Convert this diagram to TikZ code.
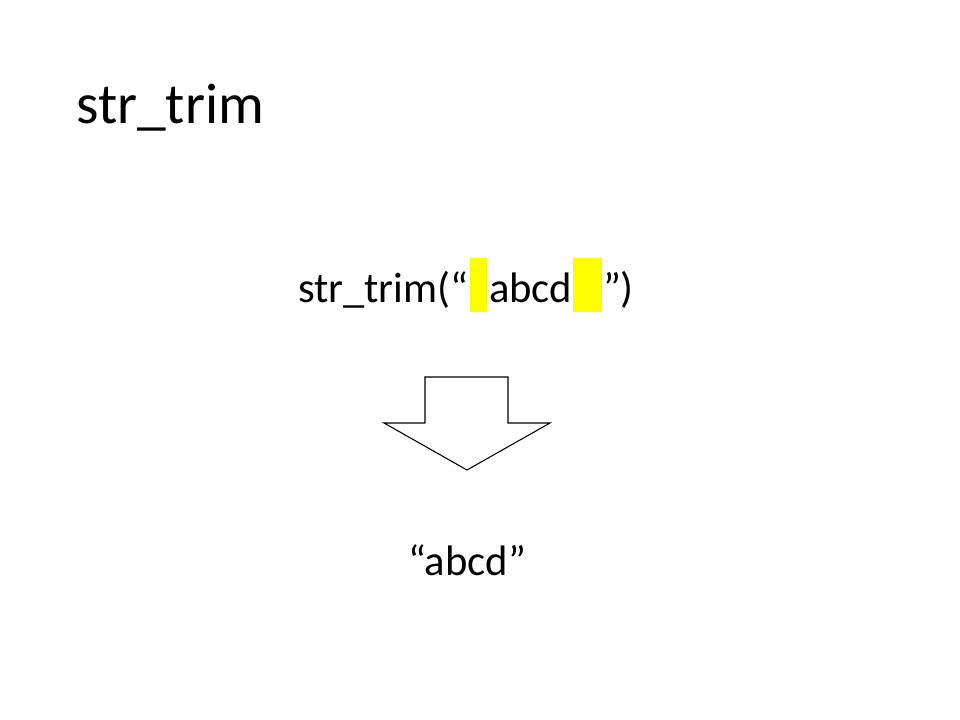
\documentclass[tikz,border=0pt]{standalone}
\usepackage{fontspec}
\setmainfont{Carlito}
\definecolor{hlyellow}{RGB}{255,255,0}
\begin{document}
\begin{tikzpicture}[x=0.75pt,y=-0.75pt,
  txt/.style={anchor=base west,inner sep=0pt,outer sep=0pt,font=\fontsize{32}{38}\selectfont},
  hl/.style={fill=hlyellow,draw=none},
  arrowshape/.style={draw=black,line width=0.8pt,fill=white,line join=miter}]
\useasboundingbox (0,0) rectangle (960,720);
\fill[white] (0,0) rectangle (960,720);
% title
\node[anchor=base west,inner sep=0pt,font=\fontsize{43}{51}\selectfont] (title) at (76,124) {str\_trim};
% highlights
\path[hl] (470,258) rectangle (487,312);
\path[hl] (573,258) rectangle (602,312);
% call text
\node[txt] (call1) at (298,302) {str\_trim(“};
\node[txt] (call2) at (489,302) {abcd};
\node[txt] (call3) at (603,302) {”)};
% arrow
\draw[arrowshape] (425,377) -- (508,377) -- (508,423) -- (550,423) -- (467,470) -- (384,423) -- (425,423) -- cycle;
\node[txt] (result) at (408,575) {“abcd”};
\end{tikzpicture}
\end{document}
